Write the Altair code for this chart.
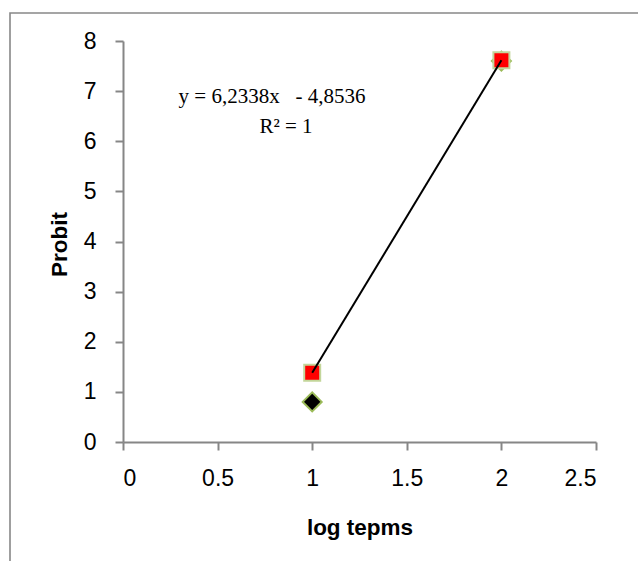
import altair as alt
import pandas as pd

# data
log_x = [1, 2]
probit_obs = [0.8, 7.6]          # black diamonds (second hidden behind square)
probit_fit = [1.38, 7.614]       # red squares
equation_line1 = "y = 6,2338x\u00a0\u00a0\u00a0- 4,8536"
equation_line2 = "R\u00b2 = 1"

W, H = 473, 401
PAD_L, PAD_T = 123, 41

obs = pd.DataFrame({"x": log_x, "y": probit_obs})
fit = pd.DataFrame({"x": log_x, "y": probit_fit})

xscale = alt.Scale(domain=[0, 2.5], nice=False, zero=False)
yscale = alt.Scale(domain=[0, 8], nice=False)

axis_common = dict(
    grid=False,
    domainColor="#868686",
    domainWidth=2,
    tickColor="#868686",
    tickWidth=2,
    tickSize=8,
    labelFont="Liberation Sans",
    labelFontSize=23,
    labelColor="#000000",
    titleFont="Liberation Sans",
    titleFontSize=22.5,
    titleFontWeight="bold",
    titleColor="#000000",
)

xaxis = alt.Axis(
    values=[0, 0.5, 1, 1.5, 2, 2.5],
    labelPadding=17,
    title="log tepms",
    titleX=W / 2,
    titleY=85,
    titleBaseline="middle",
    titleAlign="center",
    labelExpr="datum.value",
    **axis_common,
)
yaxis = alt.Axis(
    values=[0, 1, 2, 3, 4, 5, 6, 7, 8],
    labelPadding=19,
    title="Probit",
    titleAngle=-90,
    titleX=-64,
    titleY=203,
    titleBaseline="middle",
    titleAlign="center",
    **axis_common,
)

frame = alt.Chart(pd.DataFrame({"a": [0]})).mark_rect(
    fillOpacity=0, stroke="#888888", strokeWidth=1.6
).encode(
    x=alt.value(10 - PAD_L),
    x2=alt.value(900),
    y=alt.value(13 - PAD_T),
    y2=alt.value(900),
)

diamonds = alt.Chart(obs).mark_point(
    shape="diamond", filled=True, fill="#000000", stroke="#9BBB59",
    strokeWidth=2, size=360, opacity=1
).encode(
    x=alt.X("x:Q", scale=xscale, axis=xaxis),
    y=alt.Y("y:Q", scale=yscale, axis=yaxis),
)

squares = alt.Chart(fit).mark_point(
    shape="square", filled=True, fill="#FF0000", stroke="#C3D69B",
    strokeWidth=2, size=256, opacity=1
).encode(
    x=alt.X("x:Q", scale=xscale),
    y=alt.Y("y:Q", scale=yscale),
)

trend = alt.Chart(fit).mark_line(color="#000000", strokeWidth=2).encode(
    x=alt.X("x:Q", scale=xscale),
    y=alt.Y("y:Q", scale=yscale),
)

eq1 = alt.Chart(pd.DataFrame({"t": [equation_line1]})).mark_text(
    font="Liberation Serif", fontSize=21, color="#000000",
    align="center", baseline="middle"
).encode(text="t:N", x=alt.value(272 - PAD_L), y=alt.value(97 - PAD_T))

eq2 = alt.Chart(pd.DataFrame({"t": [equation_line2]})).mark_text(
    font="Liberation Serif", fontSize=21, color="#000000",
    align="center", baseline="middle"
).encode(text="t:N", x=alt.value(286 - PAD_L), y=alt.value(127 - PAD_T))

chart = alt.layer(frame, diamonds, squares, trend, eq1, eq2).properties(
    width=W,
    height=H,
    autosize=alt.AutoSizeParams(type="none"),
    padding={"left": PAD_L, "top": PAD_T, "right": 638 - PAD_L - W, "bottom": 561 - PAD_T - H},
    background="#FFFFFF",
).configure_view(stroke=None)

chart.save("out.html", embed_options={"renderer": "svg", "actions": False})
